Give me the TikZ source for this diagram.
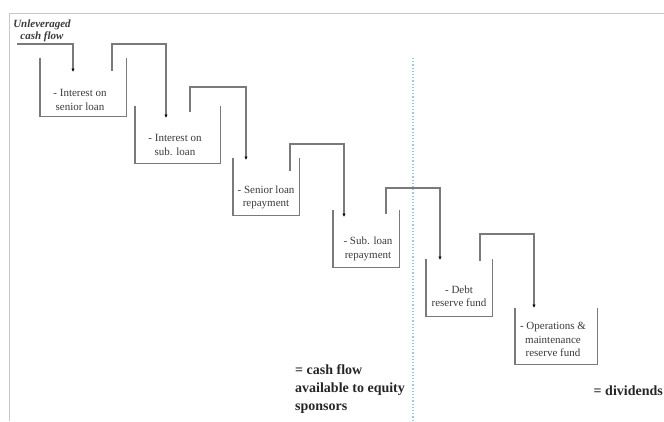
\documentclass[tikz,border=0pt]{standalone}
\usepackage{fontspec}
\setmainfont{Liberation Serif}
\usetikzlibrary{arrows.meta}
\definecolor{boxgray}{HTML}{7A7A7A}
\definecolor{framegray}{HTML}{C8C8C8}
\definecolor{txtgray}{HTML}{3A3A3A}
\definecolor{dotblue}{HTML}{9DC3E6}
\tikzset{
  bucket/.style={draw=none, inner sep=0pt},
  bucketline/.style={draw=boxgray, line width=1.4pt},
  flow/.style={draw=boxgray, line width=1.3pt, -{Latex[length=3.5pt,width=3.5pt,black]}},
  lab/.style={align=center, font=\fontsize{11}{13.5}\selectfont, text=txtgray, inner sep=0pt},
  result/.style={align=left, font=\bfseries\fontsize{14}{18}\selectfont, text=black!85, inner sep=0pt},
  frameline/.style={draw=framegray, line width=1pt}
}
\begin{document}
\begin{tikzpicture}[x=1pt,y=-1pt]
\useasboundingbox (0,0) rectangle (664,421);
% frame
\draw[frameline] (664,13) -- (9,13) -- (9,421);
% dotted divider
\draw[dotblue, line width=1.2pt, dotted] (413,58) -- (413,421);

% buckets (open-top boxes)
\node[bucket, minimum width=86pt, minimum height=58pt] (b1) at (83,87) {};
\node[bucket, minimum width=85pt, minimum height=57pt] (b2) at (177.5,134.5) {};
\node[bucket, minimum width=66pt, minimum height=57pt] (b3) at (266,186.5) {};
\node[bucket, minimum width=66pt, minimum height=57pt] (b4) at (366,238.5) {};
\node[bucket, minimum width=66pt, minimum height=57pt] (b5) at (459,287.5) {};
\node[bucket, minimum width=82pt, minimum height=56pt] (b6) at (556,336) {};
\foreach \b in {b1,b2,b3,b4,b5,b6}{
  \draw[bucketline] (\b.north west) -- (\b.south west) -- (\b.south east) -- (\b.north east);
}

% labels
\node[lab] (l1) at (80,100) {- Interest on\\senior loan};
\node[lab] (l2) at (175,145) {- Interest on\\sub. loan};
\node[lab] (l3) at (266,197.5) {- Senior loan\\repayment};
\node[lab] (l4) at (368,249) {- Sub. loan\\repayment};
\node[lab] (l5) at (459,296) {- Debt\\reserve fund};
\node[lab] (l6) at (553,339.5) {- Operations \&\\maintenance\\reserve fund};

% input label
\node[align=center, inner sep=0pt, text=txtgray,
      font=\bfseries\itshape\fontsize{11}{12.5}\selectfont] (in) at (42,31) {Unleveraged\\cash flow};
\coordinate (s0) at (17,44);

% flow connectors
\coordinate (o1) at (112,71);
\coordinate (o2) at (190,112);
\coordinate (o3) at (290,171);
\coordinate (o4) at (386,214);
\coordinate (o5) at (480,261);
\coordinate (t1) at (73,72);
\coordinate (t2) at (166,118);
\coordinate (t3) at (246,160);
\coordinate (t4) at (344,217);
\coordinate (t5) at (440,260);
\coordinate (t6) at (534,308);

\draw[flow] (s0) -- (73,44) -- (t1);
\draw[flow] (o1) -- (112,44) -- (166,44) -- (t2);
\draw[flow] (o2) -- (190,87) -- (246,87) -- (t3);
\draw[flow] (o3) -- (290,144) -- (344,144) -- (t4);
\draw[flow] (o4) -- (386,188) -- (440,188) -- (t5);
\draw[flow] (o5) -- (480,234) -- (534,234) -- (t6);

% results
\node[result, anchor=north west] (r1) at (295,364) {= cash flow\\available to equity\\sponsors};
\node[result, anchor=east] (r2) at (663,391) {= dividends};
\end{tikzpicture}
\end{document}
